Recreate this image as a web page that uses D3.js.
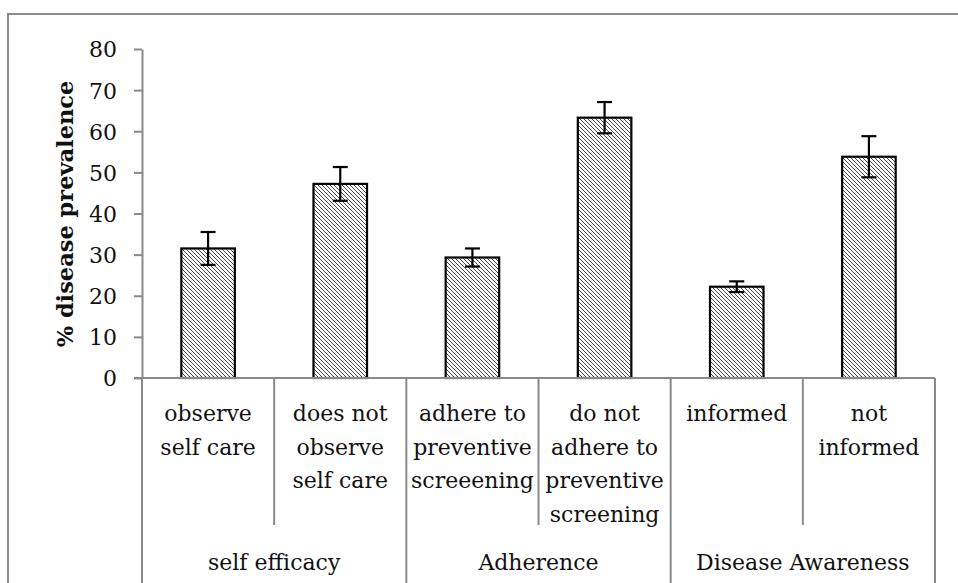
<!DOCTYPE html>
<html>
<head>
<meta charset="utf-8">
<script src="https://cdn.jsdelivr.net/npm/d3@7"></script>
<style>
  body { margin: 0; background: #fff; }
  text { font-family: 'DejaVu Serif', serif; fill: #111; }
</style>
</head>
<body>
<svg width="958" height="583"></svg>
<script>
const svg = d3.select('svg');

const width = +svg.attr('width');
const height = +svg.attr('height');

// data
const categories = ['c1', 'c2', 'c3', 'c4', 'c5', 'c6'];
const categoryLabels = [
    ['observe', 'self care'],
    ['does not', 'observe', 'self care'],
    ['adhere to', 'preventive', 'screeening'],
    ['do not', 'adhere to', 'preventive', 'screening'],
    ['informed'],
    ['not', 'informed']
];
const groups = ['self efficacy', 'Adherence', 'Disease Awareness'];
const values = [31.5, 47.2, 29.3, 63.3, 22.2, 53.8];
const errors = [4.0, 4.1, 2.2, 3.8, 1.3, 5.0];
const yTicks = [0, 10, 20, 30, 40, 50, 60, 70, 80];

const render = () => {
    const yAxisLabel = '% disease prevalence';
    const margin = {top: 49, left: 142, right: 23, bottom: 205};
    const innerWidth = width - margin.left - margin.right;
    const innerHeight = height - margin.top - margin.bottom;
    const axisColor = '#898989';

    // hatch pattern for bars
    const defs = svg.append('defs');
    const pat = defs.append('pattern')
        .attr('id', 'hatch')
        .attr('patternUnits', 'userSpaceOnUse')
        .attr('width', 4)
        .attr('height', 4);
    pat.append('rect').attr('width', 4).attr('height', 4).attr('fill', '#fff');
    pat.append('path')
        .attr('d', 'M-1,-1 L5,5 M3,-1 L5,1 M-1,3 L1,5')
        .attr('stroke', '#333')
        .attr('stroke-width', 0.9);

    // outer frame (cut off at right and bottom)
    svg.append('rect')
        .attr('x', 8).attr('y', 14)
        .attr('width', width + 20).attr('height', height + 20)
        .attr('fill', 'none')
        .attr('stroke', '#8a8a8a')
        .attr('stroke-width', 2);

    const xScale = d3.scaleBand()
        .domain(categories)
        .range([0, innerWidth])
        .padding(0);

    const yScale = d3.scaleLinear()
        .domain([0, 80])
        .range([innerHeight, 0]);

    const barWidth = xScale.bandwidth() * 0.405;

    const g = svg.append('g')
        .attr('transform', `translate(${margin.left}, ${margin.top})`);

    // y axis
    const yAxis = d3.axisLeft(yScale)
        .tickValues(yTicks)
        .tickSize(8)
        .tickPadding(17)
        .tickSizeOuter(0);

    const yAxisG = g.append('g').call(yAxis);
    yAxisG.selectAll('.domain, .tick line')
        .attr('stroke', axisColor)
        .attr('stroke-width', 2);
    yAxisG.selectAll('.tick text')
        .style('font-size', '22px')
        .attr('dy', '0.36em')
        .attr('fill', '#111');

    g.append('text')
        .attr('transform', 'rotate(-90)')
        .attr('x', -(214 - margin.top))
        .attr('y', 65 - margin.left)
        .attr('dy', '0.35em')
        .style('text-anchor', 'middle')
        .style('font-size', '22.5px')
        .style('font-weight', 'bold')
        .text(yAxisLabel);

    // bars
    g.selectAll('rect.bar').data(values)
        .enter().append('rect')
        .attr('class', 'bar')
        .attr('x', (d, i) => xScale(categories[i]) + (xScale.bandwidth() - barWidth) / 2)
        .attr('y', d => yScale(d))
        .attr('width', barWidth)
        .attr('height', d => innerHeight - yScale(d))
        .attr('fill', 'url(#hatch)')
        .attr('stroke', '#000')
        .attr('stroke-width', 2.2);

    // error bars
    const capW = 15;
    const errG = g.selectAll('g.err').data(values)
        .enter().append('g')
        .attr('class', 'err')
        .attr('transform', (d, i) => `translate(${xScale(categories[i]) + xScale.bandwidth() / 2}, 0)`);
    errG.append('line')
        .attr('y1', (d, i) => yScale(d + errors[i]))
        .attr('y2', (d, i) => yScale(d - errors[i]));
    errG.append('line')
        .attr('x1', -capW / 2).attr('x2', capW / 2)
        .attr('y1', (d, i) => yScale(d + errors[i]))
        .attr('y2', (d, i) => yScale(d + errors[i]));
    errG.append('line')
        .attr('x1', -capW / 2).attr('x2', capW / 2)
        .attr('y1', (d, i) => yScale(d - errors[i]))
        .attr('y2', (d, i) => yScale(d - errors[i]));
    errG.selectAll('line')
        .attr('stroke', '#000')
        .attr('stroke-width', 2.2);

    // x axis line and category separators
    g.append('line')
        .attr('x1', -8).attr('x2', innerWidth)
        .attr('y1', innerHeight).attr('y2', innerHeight)
        .attr('stroke', axisColor)
        .attr('stroke-width', 2);

    const bounds = categories.map(c => xScale(c)).concat([innerWidth]);
    g.selectAll('line.sep').data(bounds)
        .enter().append('line')
        .attr('class', 'sep')
        .attr('x1', d => d).attr('x2', d => d)
        .attr('y1', innerHeight)
        .attr('y2', (d, i) => i % 2 === 0 ? height - margin.top + 10 : 525 - margin.top)
        .attr('stroke', axisColor)
        .attr('stroke-width', 2);

    // category labels
    const catText = g.selectAll('text.cat').data(categoryLabels)
        .enter().append('text')
        .attr('class', 'cat')
        .attr('x', (d, i) => xScale(categories[i]) + xScale.bandwidth() / 2)
        .attr('y', 421 - margin.top)
        .style('text-anchor', 'middle')
        .style('font-size', '22px');
    catText.selectAll('tspan').data(d => d)
        .enter().append('tspan')
        .attr('x', function() { return d3.select(this.parentNode).attr('x'); })
        .attr('dy', (d, i) => i === 0 ? 0 : 33.5)
        .text(d => d);

    // group labels
    g.selectAll('text.grp').data(groups)
        .enter().append('text')
        .attr('class', 'grp')
        .attr('x', (d, i) => xScale(categories[i * 2]) + xScale.bandwidth())
        .attr('y', 570 - margin.top)
        .style('text-anchor', 'middle')
        .style('font-size', '22px')
        .text(d => d);
};

render();
</script>
</body>
</html>
